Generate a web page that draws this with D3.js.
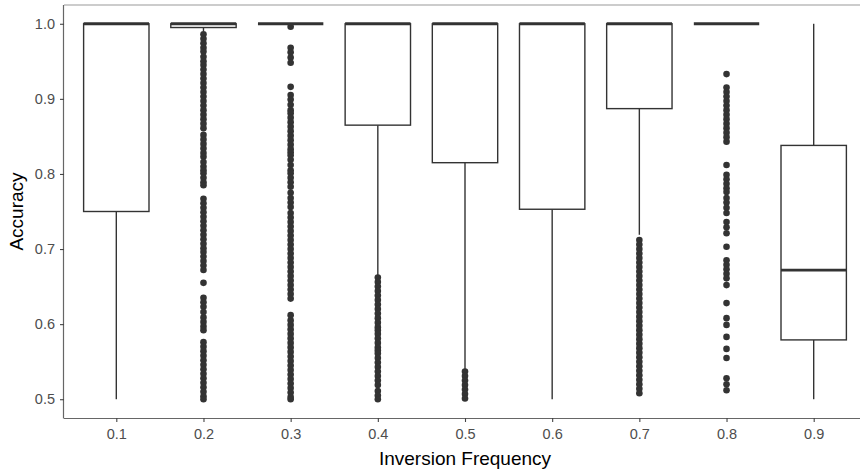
<!DOCTYPE html>
<html>
<head>
<meta charset="utf-8">
<script src="https://cdn.jsdelivr.net/npm/d3@7"></script>
<style>
  body { margin: 0; background: #fff; }
  text { font-family: "Liberation Sans", Arial, sans-serif; }
</style>
</head>
<body>
<div class="chart"></div>
<script>
let categories = ["0.1", "0.2", "0.3", "0.4", "0.5", "0.6", "0.7", "0.8", "0.9"];

// box stats
let whiskerLow  = [0.5, 0.99, 1.0, 0.665, 0.54, 0.5, 0.719, 1.0, 0.5];
let q1          = [0.75, 0.995, 1.0, 0.865, 0.815, 0.753, 0.887, 1.0, 0.579];
let medians     = [1.0, 1.0, 1.0, 1.0, 1.0, 1.0, 1.0, 1.0, 0.672];
let q3          = [1.0, 1.0, 1.0, 1.0, 1.0, 1.0, 1.0, 1.0, 0.838];
let whiskerHigh = [1.0, 1.0, 1.0, 1.0, 1.0, 1.0, 1.0, 1.0, 1.0];

// outliers per category
let out01 = [];
let out02 = [0.986, 0.980, 0.974, 0.968, 0.963, 0.956, 0.950,
  0.945, 0.939, 0.933, 0.927, 0.921, 0.915, 0.909, 0.903, 0.897, 0.891, 0.885, 0.879, 0.873, 0.867, 0.861,
  0.852, 0.846, 0.840, 0.834, 0.828, 0.823, 0.816, 0.810, 0.805, 0.801, 0.795, 0.789, 0.785,
  0.767, 0.761, 0.755, 0.749, 0.743, 0.737, 0.731, 0.725, 0.719, 0.713, 0.707, 0.701, 0.696,
  0.690, 0.684, 0.678, 0.672, 0.655, 0.635, 0.629, 0.623, 0.616, 0.609, 0.603, 0.597, 0.592,
  0.576, 0.570, 0.564, 0.558, 0.552, 0.546, 0.540, 0.534, 0.528, 0.522, 0.516, 0.510, 0.504, 0.500];
let out03 = [0.996, 0.968, 0.962, 0.955, 0.948, 0.916, 0.905, 0.899, 0.892, 0.885,
  0.881, 0.875, 0.869, 0.863, 0.857, 0.851, 0.845, 0.839, 0.833, 0.829,
  0.825, 0.819, 0.812, 0.805, 0.801, 0.795, 0.789, 0.783, 0.775, 0.768, 0.762, 0.756,
  0.748, 0.742, 0.736, 0.730, 0.724, 0.718, 0.712, 0.706, 0.700, 0.694, 0.688, 0.682, 0.676,
  0.670, 0.664, 0.658, 0.652, 0.646, 0.640, 0.634, 0.612,
  0.605, 0.599, 0.593, 0.587, 0.581, 0.575, 0.569, 0.563, 0.557, 0.551, 0.545, 0.539,
  0.533, 0.527, 0.521, 0.515, 0.509, 0.503, 0.500];
let out04 = [0.662, 0.656, 0.650, 0.644, 0.638, 0.632, 0.626, 0.620, 0.614, 0.608, 0.602, 0.596, 0.592,
  0.587, 0.581, 0.575, 0.569, 0.565, 0.561, 0.555, 0.549, 0.543, 0.537, 0.531,
  0.525, 0.519, 0.511, 0.505, 0.500];
let out05 = [0.537, 0.531, 0.525, 0.519, 0.513, 0.507, 0.501];
let out06 = [];
let out07 = [0.712, 0.706, 0.700, 0.694, 0.688, 0.682, 0.676, 0.670, 0.664, 0.658, 0.652, 0.646,
  0.640, 0.634, 0.628, 0.622, 0.616, 0.610, 0.604, 0.598, 0.592, 0.586, 0.580, 0.574, 0.568,
  0.562, 0.556, 0.550, 0.544, 0.538, 0.532, 0.526, 0.520, 0.514, 0.508];
let out08 = [0.933, 0.915, 0.909, 0.903, 0.897, 0.891, 0.885, 0.879, 0.873, 0.867, 0.861, 0.855, 0.849, 0.843,
  0.812, 0.799, 0.793, 0.787, 0.781, 0.776, 0.768, 0.762, 0.755, 0.748, 0.736, 0.729, 0.721,
  0.703, 0.685, 0.679, 0.673, 0.667, 0.661, 0.652, 0.628, 0.608, 0.599, 0.583, 0.567, 0.555,
  0.528, 0.520, 0.512];
let out09 = [];
let outliers = [out01, out02, out03, out04, out05, out06, out07, out08, out09];

let yTicks = [0.5, 0.6, 0.7, 0.8, 0.9, 1.0];

let W = 860, H = 474;
let panel = {left: 64, right: 866, top: 5, bottom: 418};

let svg = d3.select(".chart")
  .append("svg")
    .attr("width", W)
    .attr("height", H);

// discrete x, ggplot style expansion of 0.6 units on each side
let xScale = d3.scalePoint()
  .domain(categories)
  .range([panel.left, panel.right])
  .padding(0.6);
let step = xScale.step();
let boxW = step * 0.75;

let yScale = d3.scaleLinear()
  .domain([0.475, 1.025])
  .range([panel.bottom, panel.top]);

let boxes = categories.map(function(c, i) {
  return {cat: c, lo: whiskerLow[i], q1: q1[i], med: medians[i], q3: q3[i], hi: whiskerHigh[i], out: outliers[i]};
});

let dark = "#333333";

let g = svg.append("g");

// whiskers
g.selectAll(".whisk-lo").data(boxes).enter()
  .append("line")
    .attr("x1", d => xScale(d.cat)).attr("x2", d => xScale(d.cat))
    .attr("y1", d => yScale(d.q1)).attr("y2", d => yScale(d.lo))
    .attr("stroke", dark).attr("stroke-width", 1.4);
g.selectAll(".whisk-hi").data(boxes).enter()
  .append("line")
    .attr("x1", d => xScale(d.cat)).attr("x2", d => xScale(d.cat))
    .attr("y1", d => yScale(d.q3)).attr("y2", d => yScale(d.hi))
    .attr("stroke", dark).attr("stroke-width", 1.4);

// boxes
g.selectAll(".box").data(boxes).enter()
  .append("rect")
    .attr("x", d => xScale(d.cat) - boxW / 2)
    .attr("width", boxW)
    .attr("y", d => yScale(d.q3))
    .attr("height", d => yScale(d.q1) - yScale(d.q3))
    .attr("fill", "#fff")
    .attr("stroke", dark)
    .attr("stroke-width", 1.4);

// medians
g.selectAll(".median").data(boxes).enter()
  .append("line")
    .attr("x1", d => xScale(d.cat) - boxW / 2)
    .attr("x2", d => xScale(d.cat) + boxW / 2)
    .attr("y1", d => yScale(d.med)).attr("y2", d => yScale(d.med))
    .attr("stroke", dark).attr("stroke-width", 2.8);

// outlier points
let pts = [];
boxes.forEach(function(b) {
  b.out.forEach(function(v) { pts.push({cat: b.cat, v: v}); });
});
g.selectAll("circle").data(pts).enter()
  .append("circle")
    .attr("cx", d => xScale(d.cat))
    .attr("cy", d => yScale(d.v))
    .attr("r", 3.3)
    .attr("fill", dark);

// top border line
svg.append("line")
  .attr("x1", panel.left).attr("x2", W)
  .attr("y1", panel.top).attr("y2", panel.top)
  .attr("stroke", "#999").attr("stroke-width", 1);

// axes
let xAxis = d3.axisBottom(xScale).tickSize(4).tickPadding(7);
let xAxisGroup = svg.append("g")
  .attr("transform", "translate(0," + panel.bottom + ")")
  .call(xAxis);
xAxisGroup.select(".domain").attr("d", "M" + panel.left + ",0.5H" + W);

let yAxis = d3.axisLeft(yScale).tickValues(yTicks).tickFormat(d3.format(".1f")).tickSize(4).tickPadding(5);
let yAxisGroup = svg.append("g")
  .attr("transform", "translate(" + panel.left + ",0)")
  .call(yAxis);
yAxisGroup.select(".domain").attr("d", "M-0.5," + panel.top + "V" + (panel.bottom + 0.5));

svg.selectAll(".domain").attr("stroke", "#666").attr("stroke-width", 1.2);
svg.selectAll(".tick line").attr("stroke", "#444").attr("stroke-width", 1.1);
svg.selectAll(".tick text")
  .attr("font-family", "'Liberation Sans', Arial, sans-serif")
  .attr("font-size", 14.5)
  .attr("fill", "#4d4d4d");

// titles
svg.append("text")
  .attr("x", (panel.left + panel.right) / 2)
  .attr("y", 465)
  .attr("text-anchor", "middle")
  .attr("font-size", 19)
  .attr("fill", "#000")
  .text("Inversion Frequency");

svg.append("text")
  .attr("transform", "translate(23," + ((panel.top + panel.bottom) / 2) + ") rotate(-90)")
  .attr("text-anchor", "middle")
  .attr("font-size", 19)
  .attr("fill", "#000")
  .text("Accuracy");
</script>
</body>
</html>
